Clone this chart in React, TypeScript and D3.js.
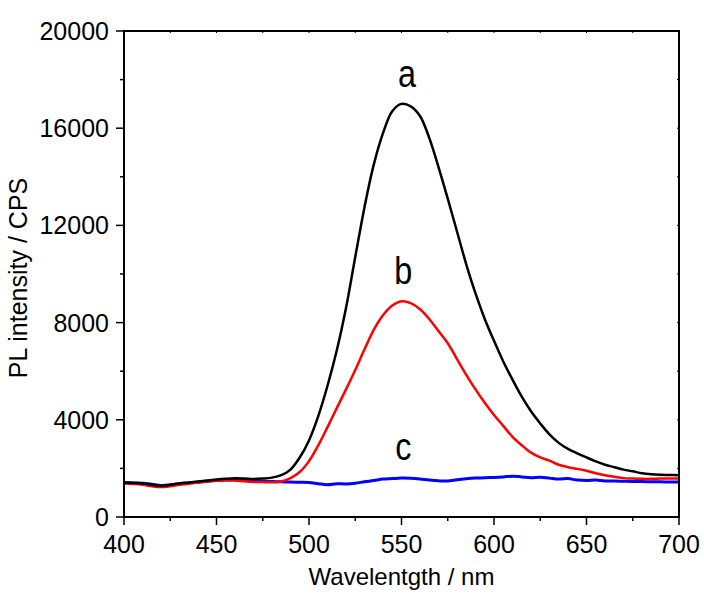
import React from "react";
import * as d3 from "d3";

// wavelengths (nm), 5 nm step
const wavelengths = d3.range(400, 701, 5);

// curve a (black)
const seriesA = [
  1420, 1400, 1380, 1330, 1280, 1330, 1380, 1420, 1460, 1500, 1540, 1570, 1590, 1580, 1560, 1580,
  1620, 1720, 1950, 2450, 3150, 4150, 5400, 6850, 8600, 10700, 12750, 14500, 15800, 16700, 17000,
  16900, 16500, 15600, 14400, 13100, 11750, 10400, 9200, 8150, 7250, 6400, 5650, 4950, 4350, 3850,
  3400, 3050, 2800, 2620, 2450, 2290, 2150, 2050, 1950, 1880, 1800, 1760, 1740, 1730, 1720,
];

// curve b (red)
const seriesB = [
  1380, 1360, 1330, 1270, 1230, 1270, 1330, 1370, 1420, 1460, 1490, 1510, 1500, 1470, 1440, 1440,
  1430, 1460, 1600, 1850, 2300, 2950, 3700, 4480, 5250, 6050, 6900, 7700, 8300, 8700, 8880,
  8800, 8550, 8150, 7650, 7150, 6500, 5850, 5250, 4700, 4200, 3750, 3300, 2950, 2650, 2450,
  2320, 2150, 2050, 1980, 1900, 1800, 1720, 1660, 1600, 1580, 1570, 1570, 1580, 1580, 1580,
];

// curve c (blue)
const seriesC = [
  1420, 1400, 1390, 1350, 1300, 1320, 1370, 1400, 1430, 1470, 1500, 1520, 1530, 1510, 1480, 1470,
  1460, 1450, 1440, 1430, 1420, 1370, 1330, 1370, 1360, 1390, 1450, 1500, 1560, 1580, 1600,
  1590, 1560, 1520, 1490, 1480, 1530, 1570, 1600, 1620, 1630, 1650, 1680, 1650, 1620, 1640,
  1600, 1560, 1580, 1520, 1500, 1520, 1480, 1480, 1470, 1460, 1460, 1450, 1450, 1440, 1440,
];

const series = [
  { name: "a", values: seriesA, color: "#000000", width: 2.5, labelX: 553, labelY: 17700 },
  { name: "b", values: seriesB, color: "#ff0000", width: 2.5, labelX: 551, labelY: 9600 },
  { name: "c", values: seriesC, color: "#0000ff", width: 3, labelX: 551, labelY: 2350 },
];

const xTicks = [400, 450, 500, 550, 600, 650, 700];
const yTicks = [0, 4000, 8000, 12000, 16000, 20000];

const W = 704;
const H = 594;
const left = 124;
const right = 679;
const top = 31;
const bottom = 517;
const font = "'Liberation Sans', Arial, sans-serif";

export default function App() {
  const x = d3.scaleLinear().domain([400, 700]).range([left, right]);
  const y = d3.scaleLinear().domain([0, 20000]).range([bottom, top]);

  const line = d3
    .line<number>()
    .x((_, i) => x(wavelengths[i]))
    .y((d) => y(d))
    .curve(d3.curveCatmullRom);

  const xMinor = d3.range(425, 700, 50);
  const yMinor = d3.range(2000, 20000, 4000);
  const topTicks = d3.range(425, 700, 25);
  const rightTicks = d3.range(2000, 20000, 2000);

  return (
    <svg width={W} height={H} style={{ position: "absolute", left: 0, top: 0, background: "#fff" }}>
      {/* curves */}
      <g fill="none" strokeLinejoin="round">
        {series
          .slice()
          .reverse()
          .map((s) => (
            <path key={s.name} d={line(s.values) || ""} stroke={s.color} strokeWidth={s.width} />
          ))}
      </g>

      {/* frame */}
      <rect x={left} y={top} width={right - left} height={bottom - top} fill="none" stroke="#000" strokeWidth={2} />

      {/* ticks */}
      <g stroke="#000" strokeWidth={1.5}>
        {xTicks.map((t) => (
          <line key={"xt" + t} x1={x(t)} x2={x(t)} y1={bottom} y2={bottom + 8} />
        ))}
        {xMinor.map((t) => (
          <line key={"xm" + t} x1={x(t)} x2={x(t)} y1={bottom} y2={bottom + 4} />
        ))}
        {yTicks.map((t) => (
          <line key={"yt" + t} x1={left - 8} x2={left} y1={y(t)} y2={y(t)} />
        ))}
        {yMinor.map((t) => (
          <line key={"ym" + t} x1={left - 4} x2={left} y1={y(t)} y2={y(t)} />
        ))}
        {topTicks.map((t) => (
          <line key={"tt" + t} x1={x(t)} x2={x(t)} y1={top} y2={top + 2} strokeWidth={1} />
        ))}
        {rightTicks.map((t) => (
          <line key={"rt" + t} x1={right - 2} x2={right} y1={y(t)} y2={y(t)} strokeWidth={1} />
        ))}
      </g>

      <g fontFamily={font} fontSize={25} fill="#000">
        {xTicks.map((t) => (
          <text key={"xl" + t} x={x(t)} y={553} textAnchor="middle">
            {t}
          </text>
        ))}
        {yTicks.map((t) => (
          <text key={"yl" + t} x={left - 15} y={y(t) + 9} textAnchor="end">
            {t}
          </text>
        ))}
        <text x={(left + right) / 2} y={585} textAnchor="middle" fontSize={24}>
          Wavelentgth / nm
        </text>
        <text transform={`translate(27, ${(top + bottom) / 2 + 4}) rotate(-90)`} textAnchor="middle" fontSize={25}>
          PL intensity / CPS
        </text>
      </g>

      {/* curve labels */}
      <g fontFamily={font} fontSize={36} fill="#000">
        {series.map((s) => (
          <text
            key={"lab" + s.name}
            transform={`translate(${x(s.labelX)}, ${y(s.labelY)}) scale(0.9, 1.1)`}
            textAnchor="middle"
          >
            {s.name}
          </text>
        ))}
      </g>
    </svg>
  );
}
